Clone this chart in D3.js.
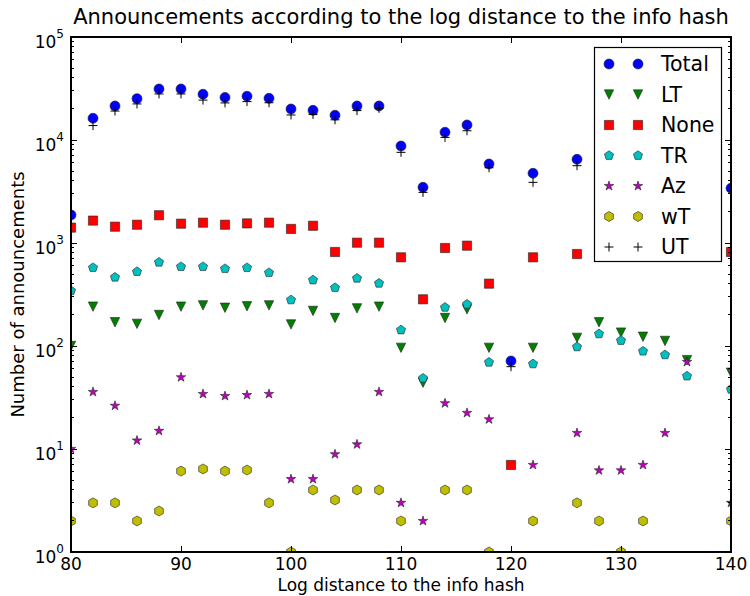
<!DOCTYPE html>
<html>
<head>
<meta charset="utf-8">
<script src="https://cdn.jsdelivr.net/npm/d3@7"></script>
<style>
body { margin: 0; background: #fff; }
text { font-family: "DejaVu Sans", sans-serif; fill: #000; }
</style>
</head>
<body>
<div id="frame"></div>
<script>
// log distance (x) shared by every series, null = no point
var dist = [80,82,84,86,88,90,92,94,96,98,100,102,104,106,108,110,112,114,116,118,120,122,124,126,128,130,132,134,136,138,140];

var total = [1870,16250,21400,25200,31300,31300,27800,25900,26600,25400,20000,19400,17400,21400,21400,8740,3470,11900,14000,5850,71.5,4750,null,6490,null,null,null,null,null,null,3400];
var lt    = [100,241,170,164,200,241,248,235,243,248,162,219,187,232,241,96,44,187,227,96,null,96,null,120,170,135,123,112,73,null,55];
var none  = [1410,1650,1440,1505,1860,1540,1575,1505,1550,1575,1370,1470,818,1007,1007,726,284,894,942,403,7,726,null,782,null,null,null,null,null,null,818];
var tr    = [344,576,465,527,650,589,589,563,576,515,280,437,368,454,406,143,48.6,237,254,69.5,null,67,null,98,131,113,89,82,51,null,38];
var az    = [10,35.8,26.3,12.1,15,49.7,34.2,32.7,33.4,34.2,5.1,5.1,8.9,11.1,35.8,3,2,27.8,22.4,19.4,null,7,null,14.3,6.2,6.2,7,14.3,70,null,3];
var wt    = [2,3,3,2,2.5,6.1,6.4,6.1,6.25,3,1,4,3.2,4,4,2,null,4,4,1,null,2,null,3,2,1,2,null,null,null,2];
var ut    = [null,13800,19100,22400,28000,28000,24400,22900,23600,23000,17500,17700,15700,19300,20300,7590,3100,10600,12300,5380,63,3880,null,5630,null,null,null,null,null,null,null];

var seriesNames = ["Total","LT","None","TR","Az","wT","UT"];
var xTicks = [80,90,100,110,120,130,140];
var yExponents = [0,1,2,3,4,5];

var W = 750, H = 596;
var pLeft = 71, pTop = 37, pRight = 731, pBottom = 552;

// marker shapes, size = radius in px
function regular(n) {
	return { draw: function(ctx, r) {
		for(var i=0; i<n; i++) {
			var a = i*2*Math.PI/n;
			if(i==0) ctx.moveTo(r*Math.sin(a), -r*Math.cos(a));
			else ctx.lineTo(r*Math.sin(a), -r*Math.cos(a));
		}
		ctx.closePath();
	}};
}
var shapes = {
	circle: { draw: function(ctx, r) { ctx.moveTo(r, 0); ctx.arc(0, 0, r, 0, 2*Math.PI); ctx.closePath(); } },
	tri: { draw: function(ctx, r) { ctx.moveTo(0, r); ctx.lineTo(-r, -r); ctx.lineTo(r, -r); ctx.closePath(); } },
	square: { draw: function(ctx, r) { ctx.rect(-r*0.92, -r*0.92, r*1.84, r*1.84); } },
	pent: regular(5),
	star: { draw: function(ctx, r) {
		for(var i=0; i<10; i++) {
			var a = i*Math.PI/5, rr = i%2 ? r*0.381966 : r;
			if(i==0) ctx.moveTo(rr*Math.sin(a), -rr*Math.cos(a));
			else ctx.lineTo(rr*Math.sin(a), -rr*Math.cos(a));
		}
		ctx.closePath();
	}},
	hex: regular(6),
	plus: { draw: function(ctx, r) { ctx.moveTo(-r, 0); ctx.lineTo(r, 0); ctx.moveTo(0, -r); ctx.lineTo(0, r); } }
};

var series = [
	{name: seriesNames[0], values: total, shape: shapes.circle, color: "#0000ff", r: 5},
	{name: seriesNames[1], values: lt, shape: shapes.tri, color: "#007f00", r: 4.7},
	{name: seriesNames[2], values: none, shape: shapes.square, color: "#ff0000", r: 5},
	{name: seriesNames[3], values: tr, shape: shapes.pent, color: "#00bfbf", r: 4.8},
	{name: seriesNames[4], values: az, shape: shapes.star, color: "#bf00bf", r: 5},
	{name: seriesNames[5], values: wt, shape: shapes.hex, color: "#bfbf00", r: 5},
	{name: seriesNames[6], values: ut, shape: shapes.plus, color: "#000000", r: 4.5}
];

var x = d3.scaleLinear().domain([80, 140]).range([pLeft, pRight]);
var y = d3.scaleLog().domain([1, 1e5]).range([pBottom, pTop]);

var svg = d3.select("#frame").append("svg")
	.attr("width", W)
	.attr("height", H);

svg.append("defs").append("clipPath").attr("id", "clip")
	.append("rect")
	.attr("x", pLeft).attr("y", pTop)
	.attr("width", pRight-pLeft).attr("height", pBottom-pTop);

// points
var plot = svg.append("g").attr("clip-path", "url(#clip)");
series.forEach(function(s) {
	var pts = dist.map(function(d, i) { return {x: d, v: s.values[i]}; })
		.filter(function(p) { return p.v != null; });
	plot.append("g").selectAll("path")
		.data(pts)
		.enter().append("path")
		.attr("transform", function(p) { return "translate(" + x(p.x) + "," + y(p.v) + ")"; })
		.attr("d", d3.symbol().type(s.shape).size(s.r))
		.attr("fill", s.name == "UT" ? "none" : s.color)
		.attr("stroke", s.name == "UT" ? "#000" : "#222")
		.attr("stroke-width", s.name == "UT" ? 1 : 0.6);
});

// ticks (inside, all four sides)
var ax = svg.append("g").attr("shape-rendering", "crispEdges").attr("stroke", "#000");
xTicks.forEach(function(t) {
	ax.append("line").attr("x1", x(t)).attr("x2", x(t)).attr("y1", pBottom).attr("y2", pBottom-6);
	ax.append("line").attr("x1", x(t)).attr("x2", x(t)).attr("y1", pTop).attr("y2", pTop+6);
});
y.ticks().forEach(function(t) {
	var major = Math.abs(Math.log10(t) - Math.round(Math.log10(t))) < 1e-9;
	var len = major ? 6 : 3;
	ax.append("line").attr("x1", pLeft).attr("x2", pLeft+len).attr("y1", y(t)).attr("y2", y(t));
	ax.append("line").attr("x1", pRight).attr("x2", pRight-len).attr("y1", y(t)).attr("y2", y(t));
});
ax.append("rect")
	.attr("x", pLeft).attr("y", pTop)
	.attr("width", pRight-pLeft).attr("height", pBottom-pTop)
	.attr("fill", "none").attr("stroke-width", 1.2);

// tick labels
svg.append("g").selectAll("text")
	.data(xTicks)
	.enter().append("text")
	.attr("x", function(d) { return x(d); })
	.attr("y", 570)
	.attr("text-anchor", "middle")
	.style("font-size", "17px")
	.text(function(d) { return d; });

var yl = svg.append("g").selectAll("text")
	.data(yExponents)
	.enter().append("text")
	.attr("x", 64)
	.attr("y", function(d) { return y(Math.pow(10, d)) + 11; })
	.attr("text-anchor", "end")
	.style("font-size", "17px");
yl.append("tspan").text("10");
yl.append("tspan").attr("dy", -10).style("font-size", "12px").text(function(d) { return d; });

// titles
svg.append("text")
	.attr("x", (pLeft+pRight)/2)
	.attr("y", 24)
	.attr("text-anchor", "middle")
	.style("font-size", "21px")
	.text("Announcements according to the log distance to the info hash");

svg.append("text")
	.attr("x", (pLeft+pRight)/2)
	.attr("y", 591)
	.attr("text-anchor", "middle")
	.style("font-size", "17px")
	.text("Log distance to the info hash");

svg.append("text")
	.attr("transform", "translate(24," + ((pTop+pBottom)/2) + ") rotate(-90)")
	.attr("text-anchor", "middle")
	.style("font-size", "18px")
	.text("Number of announcements");

// legend, two markers per entry
var lg = svg.append("g");
lg.append("rect")
	.attr("x", 594.5).attr("y", 47.5)
	.attr("width", 127).attr("height", 214)
	.attr("fill", "#fff").attr("stroke", "#000").attr("stroke-width", 1.2);
series.forEach(function(s, i) {
	var ly = 64 + i*30.5;
	[609, 638].forEach(function(lx) {
		lg.append("path")
			.attr("transform", "translate(" + lx + "," + ly + ")")
			.attr("d", d3.symbol().type(s.shape).size(s.r))
			.attr("fill", s.name == "UT" ? "none" : s.color)
			.attr("stroke", s.name == "UT" ? "#000" : "#222")
			.attr("stroke-width", s.name == "UT" ? 1 : 0.6);
	});
	lg.append("text")
		.attr("x", 661)
		.attr("y", ly)
		.attr("dy", "0.36em")
		.style("font-size", "20.5px")
		.text(s.name);
});
</script>
</body>
</html>
